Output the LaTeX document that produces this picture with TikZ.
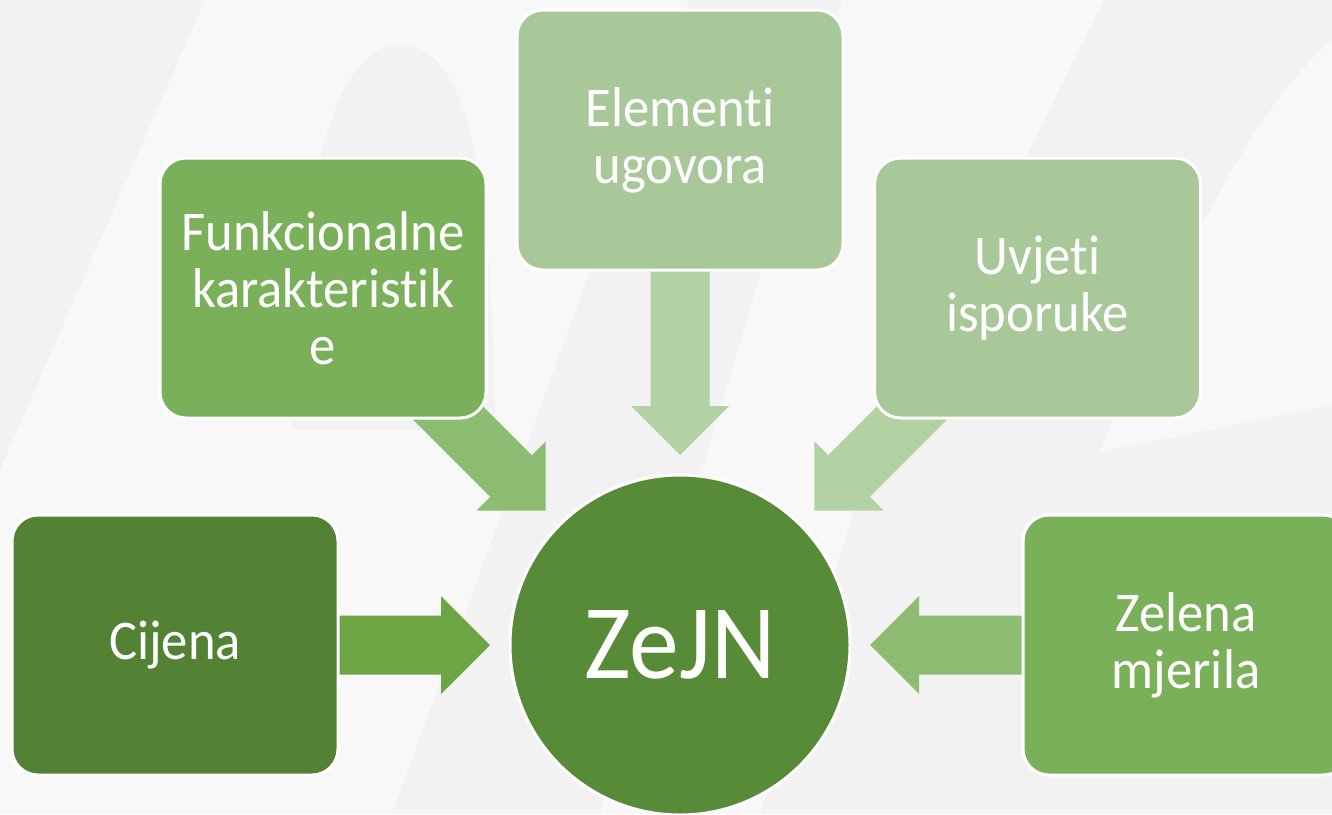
\documentclass[tikz,border=0pt]{standalone}
\usepackage{fontspec}
\setmainfont{Carlito}[FakeStretch=0.94, Ligatures=NoCommon]
\usetikzlibrary{calc}
\definecolor{bggray}{HTML}{F2F2F2}
\definecolor{bglight}{HTML}{F8F8F8}
\definecolor{dkgreen}{HTML}{548235}
\definecolor{circgreen}{HTML}{578B37}
\definecolor{midgreen}{HTML}{7AB05A}
\definecolor{ltgreen}{HTML}{A9C89A}
\definecolor{arrA}{HTML}{6DA545}
\definecolor{arrB}{HTML}{8DBD72}
\definecolor{arrC}{HTML}{B2D2A3}
\pgfdeclarelayer{bglayer}
\pgfdeclarelayer{arrowlayer}
\pgfsetlayers{bglayer,arrowlayer,main}
\tikzset{
  box/.style={draw=white, line width=3pt, rounded corners=26pt,
    minimum width=326pt, minimum height=260pt, inner sep=0pt,
    align=center, text=white, font=\fontsize{56}{57}\selectfont},
  hub/.style={circle, draw=white, line width=3pt, minimum size=340pt,
    inner sep=0pt, fill=circgreen, text=white,
    font=\fontsize{106}{110}\selectfont},
  blockarrow/.pic={\fill[#1] (0,0) -- (-49,49) -- (-49,29.5) -- (-200,29.5)
    -- (-200,-29.5) -- (-49,-29.5) -- (-49,-49) -- cycle;}
}
\begin{document}
\begin{tikzpicture}[x=1pt,y=-1pt]
\useasboundingbox (0,0) rectangle (1332,814);
\clip (0,0) rectangle (1332,814);
\begin{pgfonlayer}{bglayer}
  \fill[bggray] (0,0) rectangle (1332,814);
  \fill[bglight] (205,0) -- (689,0) -- (392,814) -- (0,814) -- (0,470) -- cycle;
  \fill[bggray] (292,430) .. controls (298,200) and (330,45) .. (400,45)
    .. controls (470,45) and (492,180) .. (495,430) -- cycle;
  \fill[bglight] (842,0) -- (1103,0) -- (853,513) -- (760,814) -- (600,814) -- cycle;
  \fill[bglight] (1332,40) .. controls (1250,110) and (1180,260) .. (1100,452)
    -- (1332,405) -- cycle;
\end{pgfonlayer}

\node[hub] (hub) at (680,645) {ZeJN};
\node[box, fill=midgreen] (funk) at (323,288) {Funkcionalne\\karakteristik\\e};
\node[box, fill=ltgreen] (elem) at (680,140) {Elementi\\ugovora};
\node[box, fill=ltgreen] (uvj) at (1037.5,288) {Uvjeti\\isporuke};
\node[box, fill=dkgreen] (cij) at (175,645) {Cijena};
\node[box, fill=midgreen] (zel) at (1186,645) {Zelena\\mjerila};

\coordinate (tipC) at ($(hub.center)+(180:190)$);
\coordinate (tipZ) at ($(hub.center)+(0:190)$);
\coordinate (tipE) at ($(hub.center)+(-90:190)$);
\coordinate (tipF) at ($(hub.center)+(-135:190)$);
\coordinate (tipU) at ($(hub.center)+(-45:190)$);

\begin{pgfonlayer}{arrowlayer}
  \pic[rotate=0] at (tipC) {blockarrow=arrA};
  \pic[rotate=180] at (tipZ) {blockarrow=arrB};
  \pic[rotate=-90] at (tipE) {blockarrow=arrC};
  \pic[rotate=-45] at (tipF) {blockarrow=arrB};
  \pic[rotate=-135] at (tipU) {blockarrow=arrC};
\end{pgfonlayer}
\end{tikzpicture}
\end{document}
